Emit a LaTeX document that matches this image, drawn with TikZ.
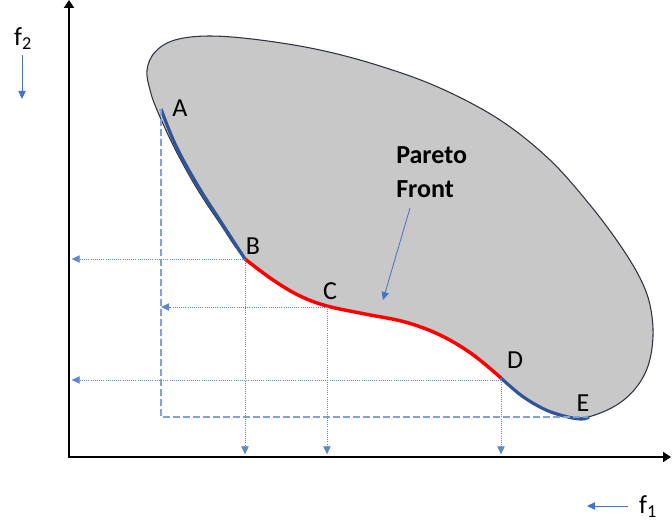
\documentclass[tikz,border=0pt]{standalone}
\usepackage{fontspec}
\setmainfont{Carlito}
\usetikzlibrary{arrows.meta}
\definecolor{blobgray}{RGB}{200,200,200}
\definecolor{edge}{RGB}{45,52,64}
\definecolor{front}{RGB}{47,85,151}
\definecolor{guide}{RGB}{68,114,196}
\definecolor{paleguide}{RGB}{130,160,220}
\tikzset{
  axis/.style={-{Triangle[length=6pt,width=7.5pt]}, line width=2pt, black},
  proj/.style={guide!85, densely dotted, line width=0.6pt, -{Triangle[length=6pt,width=5.5pt]}},
  frame/.style={paleguide, dash pattern=on 5pt off 2.5pt, line width=0.8pt},
  dirarrow/.style={guide, line width=0.6pt, -{Triangle[length=6pt,width=5.5pt]}},
  lbl/.style={font=\fontsize{19.5}{22}\selectfont, inner sep=0pt},
}

\begin{document}
\begin{tikzpicture}[x=0.75pt,y=-0.75pt]
    \useasboundingbox (0,0) rectangle (672,524);
    % --- points on the front ---
    \coordinate (pA) at (161,109);
    \coordinate (pB) at (245,259);
    \coordinate (pC) at (327,307);
    \coordinate (pD) at (501,378);
    \coordinate (pE) at (588,417);
    \coordinate (O) at (69,457);
    % --- feasible region ---
    \draw[edge, line width=0.8pt, fill=blobgray] plot[smooth cycle, tension=0.6] coordinates {
      (588,417) (615,406) (635,389) (648,366) (653,336) (650,305) (640,278)
      (620,245) (590,205) (550,160) (500,120) (440,88) (380,66) (320,50)
      (260,40) (210,36) (175,40) (155,52) (147,70) (150,90) (157,110)
      (174,147) (196,187) (219,222) (245,259) (273,280) (300,296)
      (327,306) (365,314) (405,322) (440,335) (472,354) (501,378)
      (522,396) (546,410) (568,417)};
    % --- the front ---
    \draw[front, line width=2.4pt] plot[smooth, tension=0.6] coordinates {
      (161,109) (176,146) (198,186) (221,222) (245,259)};
    \draw[red, line width=2.6pt] plot[smooth, tension=0.6] coordinates {
      (245,259) (273,280) (300,296) (327,306) (365,314)
      (405,322) (440,335) (472,354) (501,378)};
    \draw[front, line width=2.4pt] plot[smooth, tension=0.6] coordinates {
      (501,378) (522,396) (546,410) (568,417) (582,419) (589,417)};
    % --- projections ---
    \draw[frame] (pA) -- (pA |- pE) -- (pE);
    \draw[proj] (pB) -- ([xshift=2pt]pB -| O);
    \draw[proj] (pB) -- ([yshift=2pt]pB |- O);
    \draw[proj] (pC) -- (pC -| pA);
    \draw[proj] (pC) -- ([yshift=2pt]pC |- O);
    \draw[proj] ([yshift=-1.5pt]pD) -- ([xshift=2pt,yshift=-1.5pt]pD -| O);
    \draw[proj] (pD) -- ([yshift=2pt]pD |- O);
    % --- axes ---
    \draw[axis] (O) -- (69,0);
    \draw[axis, line cap=rect] (O) -- (671,457);
    % --- labels ---
    \node[lbl] (lA) at (180,108) {A};
    \node[lbl] (lB) at (253,246) {B};
    \node[lbl] (lC) at (330,291) {C};
    \node[lbl] (lD) at (515,360) {D};
    \node[lbl] (lE) at (583,403) {E};
    \node[lbl, font=\fontsize{19.5}{25.5}\selectfont\bfseries, align=left, anchor=west]
      (pareto) at (396,172) {Pareto\\Front};
    \coordinate (tailF) at (410,208);
    \coordinate (tipF) at (383,300);
    \draw[dirarrow] (tailF) -- (tipF);
    % --- objective directions ---
    \node[lbl] (fy) at (23,39) {f\textsubscript{2}};
    \coordinate (fyTop) at (22,55);
    \coordinate (fyEnd) at (22,99);
    \draw[dirarrow] (fyTop) -- (fyEnd);
    \node[lbl] (fx) at (648,507) {f\textsubscript{1}};
    \coordinate (fxTop) at (628,506);
    \coordinate (fxEnd) at (587,506);
    \draw[dirarrow] (fxTop) -- (fxEnd);
\end{tikzpicture}
\end{document}
